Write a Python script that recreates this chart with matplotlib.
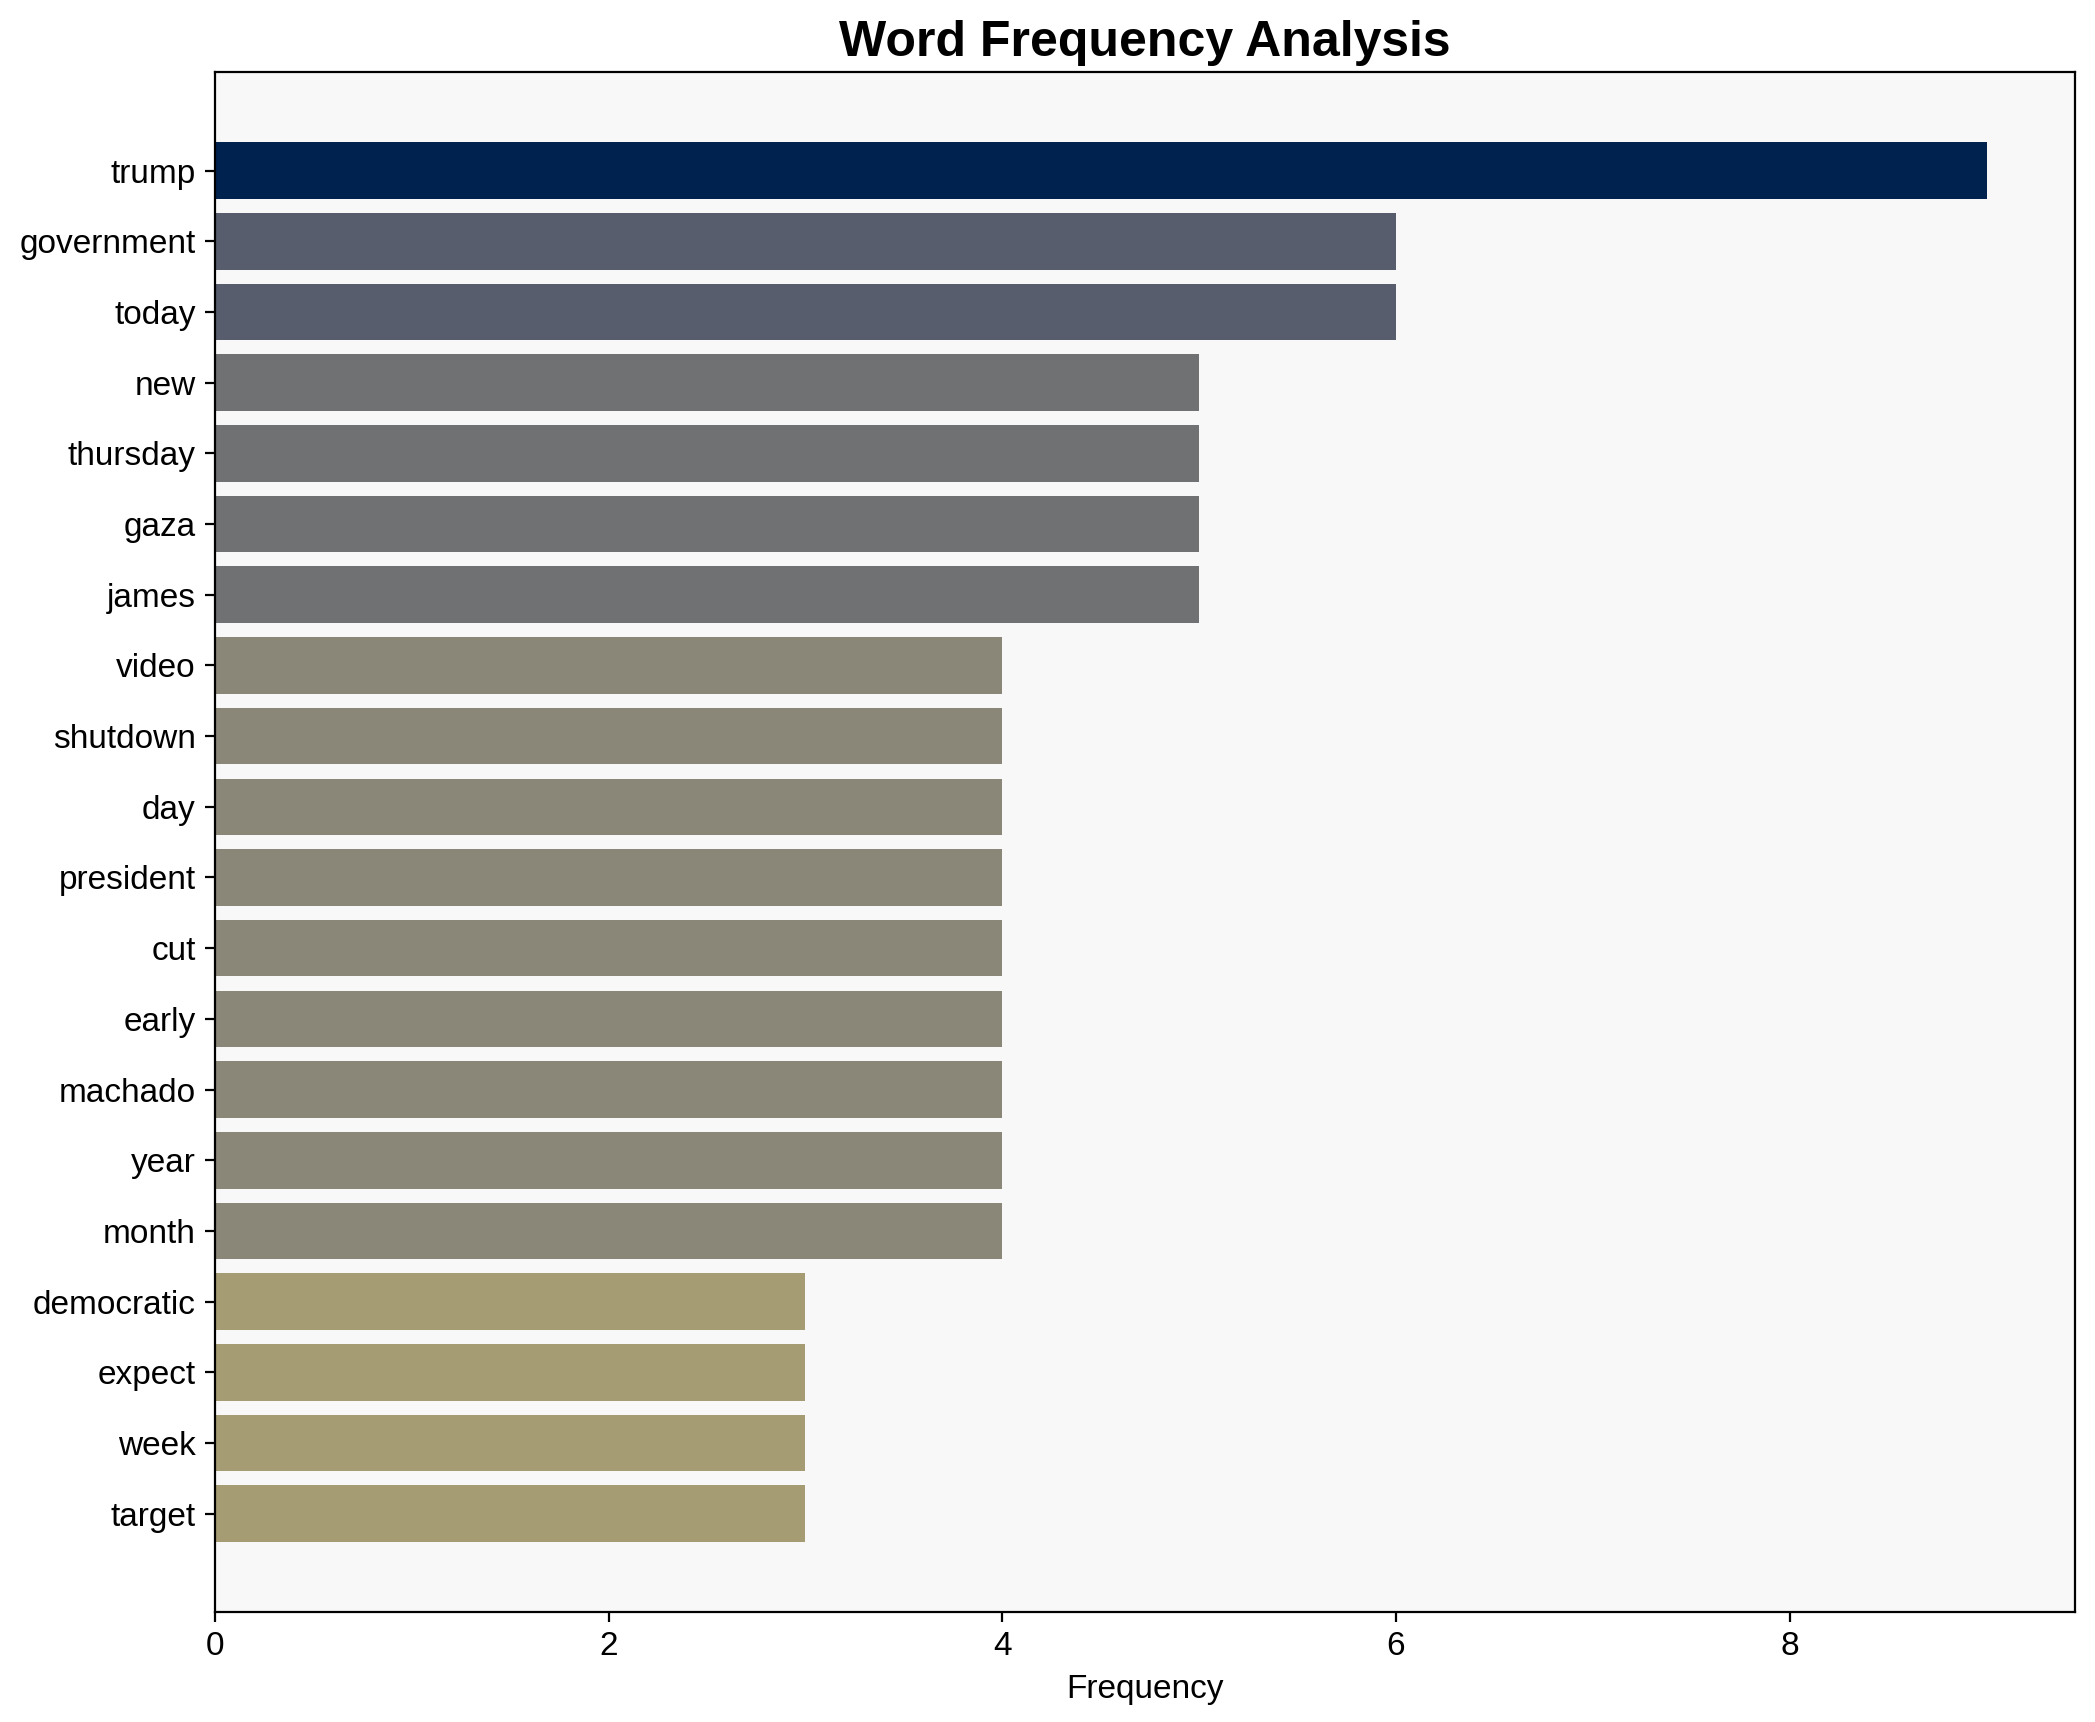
import matplotlib
matplotlib.use("Agg")
import matplotlib.pyplot as plt
import numpy as np

plt.rcParams['font.family'] = ['Liberation Sans', 'DejaVu Sans']

words = ['trump', 'government', 'today', 'new', 'thursday', 'gaza', 'james',
         'video', 'shutdown', 'day', 'president', 'cut', 'early', 'machado',
         'year', 'month', 'democratic', 'expect', 'week', 'target']
counts = [9, 6, 6, 5, 5, 5, 5, 4, 4, 4, 4, 4, 4, 4, 4, 4, 3, 3, 3, 3]

fig, ax = plt.subplots(figsize=(10.475, 8.61), dpi=200)
fig.subplots_adjust(left=0.1026, right=0.9905, top=0.958, bottom=0.0639)

vals = np.array(counts, dtype=float)
# darker colour for the more frequent words
colors = plt.cm.cividis_r(vals / vals.max())
ypos = np.arange(len(words))
ax.barh(ypos, vals, color=colors)
ax.set_yticks(ypos)
ax.set_yticklabels(words)
ax.invert_yaxis()

ax.set_facecolor('#f8f8f8')
ax.tick_params(labelsize=12)
ax.set_xlabel('Frequency', fontsize=12)
ax.set_title('Word Frequency Analysis', fontsize=18, fontweight='bold', pad=6)

fig.savefig('out.png', dpi=200)
